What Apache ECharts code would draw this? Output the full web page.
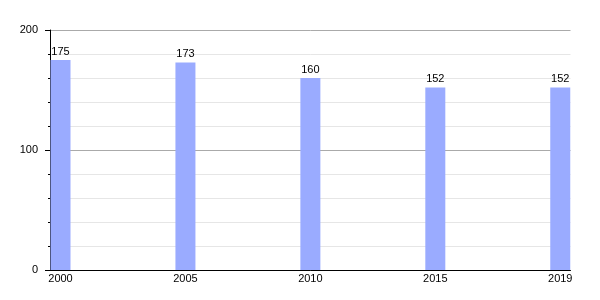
<!DOCTYPE html>
<html>
<head>
<meta charset="utf-8">
<script src="https://cdn.jsdelivr.net/npm/echarts@6/dist/echarts.min.js"></script>
<style>html,body{margin:0;padding:0;background:#fff}#c{width:600px;height:300px}</style>
</head>
<body>
<div id="c"></div>
<script>
const years = ['2000', '2005', '2010', '2015', '2019'];
const values = [175, 173, 160, 152, 152];
const yTicks = [0, 100, 200];

const chart = echarts.init(document.getElementById('c'), null, {renderer: 'canvas'});
const idx = years.map((_, i) => i);
chart.setOption({
  animation: false,
  backgroundColor: '#ffffff',
  grid: {left: 50, right: 29.5, top: 30, bottom: 30, containLabel: false},
  xAxis: {
    type: 'value',
    min: -0.084,
    max: years.length - 1 + 0.082,
    axisLine: {show: true, onZero: false, lineStyle: {color: '#000', width: 1}},
    axisTick: {show: false},
    splitLine: {show: false},
    axisLabel: {
      customValues: idx,
      formatter: v => years[Math.round(v)],
      color: '#000', fontFamily: 'Liberation Sans, Arial, sans-serif', fontSize: 11, margin: 3
    }
  },
  yAxis: {
    type: 'value',
    min: yTicks[0], max: yTicks[yTicks.length - 1], interval: 100,
    axisLine: {show: true, onZero: false, lineStyle: {color: '#000', width: 1}},
    axisTick: {show: true, length: 5, lineStyle: {color: '#000'}},
    minorTick: {show: true, splitNumber: 5, length: 2, lineStyle: {color: '#000'}},
    splitLine: {show: true, lineStyle: {color: '#aaaaaa', width: 1}},
    minorSplitLine: {show: true, lineStyle: {color: '#e6e6e6', width: 1}},
    axisLabel: {color: '#000', fontFamily: 'Liberation Sans, Arial, sans-serif', fontSize: 11, margin: 12}
  },
  series: [{
    type: 'bar',
    data: values.map((v, i) => [i, v]),
    barWidth: 20,
    itemStyle: {color: '#9aabff'},
    label: {show: true, position: 'top', distance: 3, color: '#000', fontFamily: 'Liberation Sans, Arial, sans-serif', fontSize: 11}
  }]
});
</script>
</body>
</html>
